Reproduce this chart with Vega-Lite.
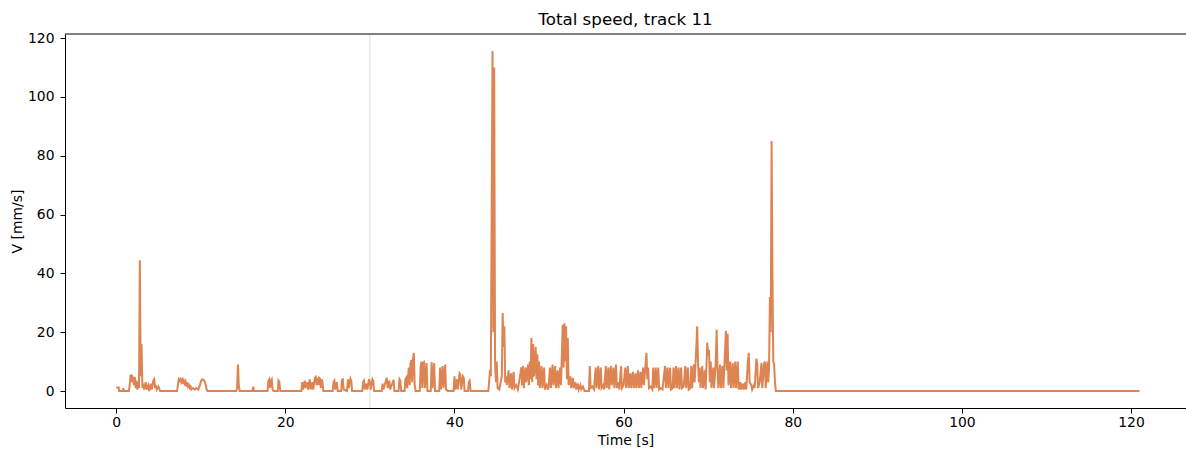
{
"$schema": "https://vega.github.io/schema/vega-lite/v6.json",
"width": 1121, "height": 374,
"autosize": {"type": "none"},
"padding": {"left": 65, "top": 34, "right": 0, "bottom": 42},
"background": "white",
"title": {"text": "Total speed, track 11", "fontSize": 16.7, "fontWeight": "normal", "font": "DejaVu Sans", "color": "#000", "offset": 2, "anchor": "middle"},
"datasets": {"speed": [
{"t":0.0,"v":1.2},{"t":0.3,"v":1.2},{"t":0.35,"v":0},{"t":0.8,"v":0},{"t":0.85,"v":1.0},{"t":0.9,"v":0},{"t":1.5,"v":0},{"t":1.6,"v":2},{"t":1.7,"v":5.5},{"t":1.8,"v":3},{"t":1.9,"v":5},{"t":2.0,"v":4.5},{"t":2.1,"v":2},{"t":2.2,"v":4.8},{"t":2.3,"v":1},{"t":2.4,"v":3.5},{"t":2.5,"v":0.5},{"t":2.6,"v":3},{"t":2.7,"v":1},{"t":2.8,"v":44.5},{"t":2.9,"v":5},{"t":3.0,"v":16},{"t":3.1,"v":1},{"t":3.2,"v":2.5},{"t":3.3,"v":0.5},{"t":3.5,"v":3},{"t":3.6,"v":0.5},{"t":3.8,"v":2},{"t":3.9,"v":0},{"t":4.1,"v":2.5},{"t":4.2,"v":0.5},{"t":4.4,"v":3.5},{"t":4.5,"v":4},{"t":4.6,"v":1},{"t":4.7,"v":2},{"t":4.8,"v":0.5},{"t":5.0,"v":1.5},{"t":5.2,"v":0},
{"t":7.2,"v":0},{"t":7.3,"v":2},{"t":7.4,"v":4},{"t":7.5,"v":3.5},{"t":7.6,"v":4},{"t":7.7,"v":3},{"t":7.8,"v":3.8},{"t":7.9,"v":2.5},{"t":8.0,"v":3.5},{"t":8.1,"v":2.5},{"t":8.2,"v":3.2},{"t":8.3,"v":1.5},{"t":8.4,"v":3},{"t":8.5,"v":1.5},{"t":8.6,"v":2},{"t":8.7,"v":1},{"t":8.8,"v":1.5},{"t":8.9,"v":0.5},{"t":9.1,"v":1},{"t":9.3,"v":0.5},{"t":9.5,"v":1},{"t":9.7,"v":0.5},{"t":9.9,"v":2},{"t":10.0,"v":3},{"t":10.1,"v":3.8},{"t":10.2,"v":4},{"t":10.3,"v":3.8},{"t":10.4,"v":3.5},{"t":10.5,"v":3},{"t":10.6,"v":2},{"t":10.7,"v":0.5},{"t":10.8,"v":0},
{"t":14.2,"v":0},{"t":14.3,"v":1},{"t":14.4,"v":9},{"t":14.5,"v":2},{"t":14.6,"v":0},{"t":16.1,"v":0},{"t":16.2,"v":1.5},{"t":16.3,"v":0},{"t":17.9,"v":0},{"t":18.0,"v":3.5},{"t":18.1,"v":4},{"t":18.2,"v":1},{"t":18.3,"v":3.5},{"t":18.4,"v":4},{"t":18.5,"v":0.5},{"t":18.6,"v":0},{"t":19.1,"v":0},{"t":19.2,"v":3.5},{"t":19.3,"v":3},{"t":19.4,"v":0},
{"t":21.9,"v":0},{"t":22.0,"v":3},{"t":22.1,"v":0.5},{"t":22.3,"v":3.5},{"t":22.4,"v":1},{"t":22.6,"v":3},{"t":22.7,"v":0.5},{"t":22.9,"v":4},{"t":23.0,"v":0.5},{"t":23.2,"v":3},{"t":23.3,"v":0.5},{"t":23.5,"v":4.5},{"t":23.6,"v":4.8},{"t":23.7,"v":2},{"t":23.8,"v":4.5},{"t":23.9,"v":2},{"t":24.0,"v":4.5},{"t":24.1,"v":4.2},{"t":24.2,"v":1},{"t":24.3,"v":4},{"t":24.4,"v":3},{"t":24.5,"v":0},{"t":25.6,"v":0},{"t":25.7,"v":3},{"t":25.8,"v":3.5},{"t":25.9,"v":0.5},{"t":26.1,"v":3},{"t":26.2,"v":0},{"t":26.6,"v":0},{"t":26.7,"v":3.8},{"t":26.8,"v":4},{"t":26.9,"v":0.5},{"t":27.3,"v":0},{"t":27.4,"v":4},{"t":27.5,"v":1},{"t":27.7,"v":4.2},{"t":27.8,"v":3.5},{"t":27.9,"v":0},
{"t":29.1,"v":0},{"t":29.2,"v":3},{"t":29.3,"v":3.5},{"t":29.4,"v":0.5},{"t":29.6,"v":2.5},{"t":29.7,"v":0.5},{"t":29.9,"v":4},{"t":30.0,"v":3},{"t":30.1,"v":0.5},{"t":30.3,"v":4},{"t":30.4,"v":3.5},{"t":30.5,"v":0},{"t":31.4,"v":0},{"t":31.5,"v":2.5},{"t":31.6,"v":0.5},{"t":31.9,"v":3.5},{"t":32.0,"v":4.5},{"t":32.1,"v":1},{"t":32.3,"v":3.5},{"t":32.4,"v":0.5},{"t":32.8,"v":3.8},{"t":32.9,"v":0},{"t":33.4,"v":0},{"t":33.5,"v":4},{"t":33.6,"v":3.5},{"t":33.7,"v":0},{"t":34.1,"v":0},{"t":34.2,"v":4},{"t":34.3,"v":4.5},{"t":34.4,"v":1},{"t":34.6,"v":8},{"t":34.7,"v":2},{"t":34.8,"v":9.5},{"t":34.9,"v":10.5},{"t":35.0,"v":3},{"t":35.1,"v":11},{"t":35.2,"v":13},{"t":35.3,"v":2},{"t":35.4,"v":0},
{"t":35.9,"v":0},{"t":36.0,"v":8},{"t":36.1,"v":10},{"t":36.2,"v":1},{"t":36.3,"v":9.5},{"t":36.4,"v":9.8},{"t":36.5,"v":1},{"t":36.7,"v":9.5},{"t":36.8,"v":0},{"t":37.2,"v":0},{"t":37.3,"v":9.8},{"t":37.4,"v":1},{"t":37.6,"v":9.5},{"t":37.7,"v":0},{"t":38.2,"v":0},{"t":38.3,"v":8},{"t":38.4,"v":0.5},{"t":38.6,"v":8.5},{"t":38.7,"v":1},{"t":38.9,"v":9},{"t":39.0,"v":0.5},{"t":39.2,"v":0},
{"t":39.9,"v":0},{"t":40.0,"v":5},{"t":40.1,"v":0.5},{"t":40.3,"v":4},{"t":40.4,"v":0.5},{"t":40.6,"v":6},{"t":40.7,"v":5.5},{"t":40.8,"v":0.5},{"t":41.0,"v":5},{"t":41.1,"v":4.5},{"t":41.2,"v":0},{"t":41.6,"v":0},{"t":41.7,"v":3},{"t":41.8,"v":3.5},{"t":41.9,"v":0},
{"t":44.0,"v":0},{"t":44.1,"v":3},{"t":44.2,"v":7},{"t":44.3,"v":5},{"t":44.4,"v":60},{"t":44.5,"v":115.6},{"t":44.6,"v":20},{"t":44.7,"v":110},{"t":44.8,"v":10},{"t":44.9,"v":3},{"t":45.0,"v":10},{"t":45.1,"v":1},{"t":45.3,"v":0.5},{"t":45.6,"v":5},{"t":45.7,"v":26.5},{"t":45.8,"v":15},{"t":45.9,"v":22},{"t":46.0,"v":3},{"t":46.1,"v":5},{"t":46.2,"v":2},{"t":46.4,"v":7},{"t":46.5,"v":1},{"t":46.7,"v":6},{"t":46.8,"v":0.5},{"t":47.0,"v":6.5},{"t":47.1,"v":1},{"t":47.3,"v":2},{"t":47.5,"v":0.5},{"t":47.8,"v":6},{"t":47.9,"v":8},{"t":48.0,"v":2},{"t":48.1,"v":8.5},{"t":48.2,"v":1},{"t":48.4,"v":8},{"t":48.5,"v":3},{"t":48.7,"v":9},{"t":48.8,"v":2},{"t":48.9,"v":10},{"t":49.0,"v":4},{"t":49.1,"v":18},{"t":49.2,"v":3},{"t":49.3,"v":16},{"t":49.4,"v":5},{"t":49.5,"v":8},{"t":49.6,"v":15},{"t":49.7,"v":4},{"t":49.8,"v":12.5},{"t":49.9,"v":2},{"t":50.0,"v":10},{"t":50.1,"v":1},{"t":50.3,"v":8.5},{"t":50.4,"v":1},{"t":50.6,"v":8},{"t":50.7,"v":0.5},{"t":50.9,"v":2},{"t":51.1,"v":0.5},{"t":51.3,"v":8},{"t":51.4,"v":1},{"t":51.6,"v":9},{"t":51.7,"v":2},{"t":51.9,"v":8.5},{"t":52.0,"v":1},{"t":52.2,"v":7},{"t":52.3,"v":1},{"t":52.5,"v":8},{"t":52.6,"v":2},{"t":52.8,"v":22.5},{"t":52.9,"v":8},{"t":53.0,"v":23},{"t":53.1,"v":10},{"t":53.2,"v":22},{"t":53.3,"v":4},{"t":53.4,"v":18},{"t":53.5,"v":2},{"t":53.7,"v":5},{"t":53.8,"v":1},{"t":54.0,"v":4.5},{"t":54.1,"v":1},{"t":54.3,"v":3},{"t":54.4,"v":0.5},{"t":54.6,"v":2.5},{"t":54.7,"v":0.5},{"t":54.9,"v":2},{"t":55.0,"v":0.5},{"t":55.2,"v":1.5},{"t":55.4,"v":0},
{"t":55.9,"v":0},{"t":56.0,"v":8.5},{"t":56.1,"v":1},{"t":56.3,"v":1.5},{"t":56.5,"v":0.5},{"t":56.7,"v":8},{"t":56.8,"v":1},{"t":57.0,"v":8.5},{"t":57.1,"v":0.5},{"t":57.3,"v":8},{"t":57.4,"v":1},{"t":57.6,"v":2},{"t":57.7,"v":0.5},{"t":57.9,"v":8.5},{"t":58.0,"v":1},{"t":58.2,"v":8},{"t":58.3,"v":0.5},{"t":58.5,"v":8.5},{"t":58.6,"v":2},{"t":58.8,"v":8},{"t":58.9,"v":1},{"t":59.1,"v":9},{"t":59.2,"v":1},{"t":59.4,"v":3},{"t":59.5,"v":0.5},{"t":59.7,"v":8.5},{"t":59.8,"v":1},{"t":60.0,"v":2},{"t":60.2,"v":8},{"t":60.3,"v":1},{"t":60.5,"v":8.5},{"t":60.6,"v":1},{"t":60.8,"v":6},{"t":60.9,"v":1},{"t":61.1,"v":6.5},{"t":61.2,"v":1},{"t":61.4,"v":6},{"t":61.5,"v":1},{"t":61.7,"v":7},{"t":61.8,"v":1},{"t":62.0,"v":6.5},{"t":62.1,"v":1},{"t":62.3,"v":8},{"t":62.4,"v":2},{"t":62.6,"v":9},{"t":62.7,"v":13},{"t":62.8,"v":4},{"t":62.9,"v":8},{"t":63.0,"v":1},{"t":63.2,"v":1.5},{"t":63.4,"v":0.5},{"t":63.5,"v":8},{"t":63.6,"v":1},{"t":63.8,"v":8},{"t":63.9,"v":1},{"t":64.1,"v":8},{"t":64.2,"v":0.5},{"t":64.4,"v":1},{"t":64.6,"v":0.5},{"t":64.9,"v":8.5},{"t":65.0,"v":1},{"t":65.2,"v":8},{"t":65.3,"v":1},{"t":65.5,"v":8},{"t":65.6,"v":0.5},{"t":65.8,"v":1},{"t":65.9,"v":8},{"t":66.0,"v":1},{"t":66.2,"v":8.5},{"t":66.3,"v":1},{"t":66.5,"v":8},{"t":66.6,"v":0.5},{"t":66.8,"v":8},{"t":66.9,"v":1},{"t":67.1,"v":1.5},{"t":67.3,"v":8.5},{"t":67.4,"v":1},{"t":67.6,"v":8},{"t":67.7,"v":0.5},{"t":67.9,"v":1},{"t":68.0,"v":8.5},{"t":68.1,"v":1},{"t":68.3,"v":9},{"t":68.4,"v":3},{"t":68.6,"v":15},{"t":68.7,"v":22},{"t":68.8,"v":10},{"t":68.9,"v":3},{"t":69.0,"v":8},{"t":69.1,"v":1},{"t":69.3,"v":8.5},{"t":69.4,"v":1},{"t":69.6,"v":7},{"t":69.7,"v":0.5},{"t":69.9,"v":16.5},{"t":70.0,"v":12},{"t":70.1,"v":14},{"t":70.2,"v":3},{"t":70.3,"v":10},{"t":70.4,"v":1},{"t":70.6,"v":8},{"t":70.7,"v":1},{"t":70.9,"v":10},{"t":71.0,"v":20.8},{"t":71.1,"v":8},{"t":71.2,"v":1},{"t":71.4,"v":9},{"t":71.5,"v":1},{"t":71.7,"v":8.5},{"t":71.8,"v":1},{"t":72.1,"v":20.5},{"t":72.2,"v":7},{"t":72.3,"v":19.5},{"t":72.4,"v":2},{"t":72.6,"v":10},{"t":72.7,"v":1},{"t":72.9,"v":9.5},{"t":73.0,"v":1},{"t":73.2,"v":10},{"t":73.3,"v":1},{"t":73.5,"v":10},{"t":73.6,"v":0.5},{"t":73.8,"v":3},{"t":73.9,"v":0.5},{"t":74.1,"v":2.5},{"t":74.2,"v":0.5},{"t":74.4,"v":3},{"t":74.5,"v":0.5},{"t":74.7,"v":10},{"t":74.8,"v":13},{"t":74.9,"v":3},{"t":75.1,"v":2},{"t":75.2,"v":0.5},{"t":75.4,"v":2},{"t":75.5,"v":1},{"t":75.7,"v":11},{"t":75.8,"v":9},{"t":75.9,"v":1},{"t":76.1,"v":3},{"t":76.3,"v":9.5},{"t":76.4,"v":1},{"t":76.6,"v":9},{"t":76.7,"v":10},{"t":76.8,"v":1},{"t":77.0,"v":10},{"t":77.1,"v":3},{"t":77.2,"v":8},{"t":77.3,"v":32},{"t":77.4,"v":20},{"t":77.5,"v":85},{"t":77.6,"v":40},{"t":77.7,"v":10},{"t":77.8,"v":9},{"t":77.9,"v":3},{"t":78.0,"v":0},{"t":121.0,"v":0}
], "marks": [{"name": "x30"}]},
"layer": [
{"data": {"name": "marks"}, "mark": {"type": "rule", "color": "#dddddd", "strokeWidth": 1}, "encoding": {"x": {"datum": 30, "type": "quantitative"}}},
{"data": {"name": "speed"},
 "mark": {"type": "line", "color": "#dd8452", "strokeWidth": 2, "clip": true},
 "encoding": {
  "x": {"field": "t", "type": "quantitative", "title": "Time [s]",
        "scale": {"domain": [-6.05, 126.5], "nice": false, "zero": false},
        "axis": {"values": [0, 20, 40, 60, 80, 100, 120], "labelPadding": 2, "titlePadding": 5}},
  "y": {"field": "v", "type": "quantitative", "title": "V [mm/s]",
        "scale": {"domain": [-5.78, 121.4], "nice": false, "zero": false},
        "axis": {"values": [0, 20, 40, 60, 80, 100, 120], "labelPadding": 6, "titlePadding": 3}}
 }},
{"data": {"name": "marks"}, "mark": {"type": "rule", "color": "#000000", "strokeWidth": 1}, "encoding": {"y": {"datum": 121.4, "type": "quantitative"}}}
],
"config": {
 "font": "DejaVu Sans",
 "view": {"stroke": null},
 "axis": {"grid": false, "domainColor": "#000", "tickColor": "#000", "labelColor": "#000", "titleColor": "#000",
          "labelFontSize": 13.9, "titleFontSize": 13.9, "titleFontWeight": "normal", "tickSize": 5, "domainWidth": 1, "tickWidth": 1,
          "labelFont": "DejaVu Sans", "titleFont": "DejaVu Sans"}
}
}
